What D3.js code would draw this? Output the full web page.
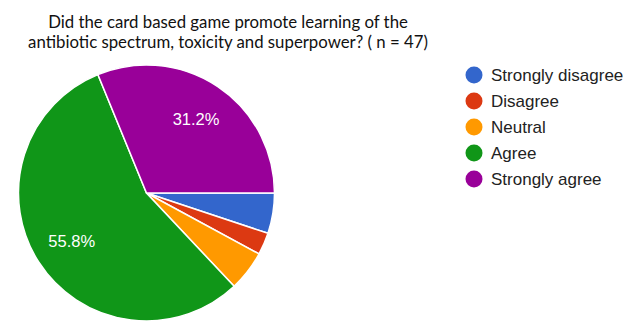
<html>
<head>
	<title>Card based game - pie</title>
	<script src="https://d3js.org/d3.v7.min.js"></script>
	<style type="text/css">
		body { margin: 0; padding: 0; background: #fff; }
	</style>
</head>
<body>
<div id="chart"></div>
<script>

var titleLines = ["Did the card based game promote learning of the",
	"antibiotic spectrum, toxicity and superpower? ( n = 47)"];
var categories = ["Strongly disagree", "Disagree", "Neutral", "Agree", "Strongly agree"];
var values = [5.1, 2.8, 5.1, 55.8, 31.2];
var colors = ["#3366cc", "#dc3912", "#ff9900", "#109618", "#990099"];
var shownLabels = ["", "", "", "55.8%", "31.2%"];

var w = 635, h = 321;
var cx = 146.5, cy = 193, r = 128;

var svg = d3.select("#chart").append("svg")
	.attr("width", w)
	.attr("height", h);

// title
svg.selectAll("text.title")
	.data(titleLines)
	.enter().append("text")
	.attr("class", "title")
	.attr("x", 228)
	.attr("y", function(d, i) { return 28 + i * 20; })
	.attr("text-anchor", "middle")
	.attr("font-family", "Lato, 'Open Sans', sans-serif")
	.attr("font-size", "16.8px")
	.attr("fill", "#111")
	.text(function(d) { return d; });

// pie starts at 3 o'clock, clockwise
var pie = d3.pie()
	.sort(null)
	.startAngle(Math.PI / 2)
	.endAngle(Math.PI / 2 + 2 * Math.PI)
	.value(function(d) { return d; });

var arc = d3.arc().innerRadius(0).outerRadius(r);
var labelArc = d3.arc().innerRadius(r * 0.695).outerRadius(r * 0.695);

var arcs = pie(values);

var g = svg.append("g").attr("transform", "translate(" + cx + "," + cy + ")");

g.selectAll("path")
	.data(arcs)
	.enter().append("path")
	.attr("d", arc)
	.attr("fill", function(d, i) { return colors[i]; })
	.attr("stroke", "#fff")
	.attr("stroke-width", 1.5);

g.selectAll("text")
	.data(arcs)
	.enter().append("text")
	.attr("transform", function(d) { return "translate(" + labelArc.centroid(d) + ")"; })
	.attr("text-anchor", "middle")
	.attr("dy", "0.35em")
	.attr("font-family", "Arial, 'Liberation Sans', sans-serif")
	.attr("font-size", "16.5px")
	.attr("fill", "#fff")
	.text(function(d, i) { return shownLabels[i]; });

// legend
var legend = svg.selectAll("g.legend")
	.data(categories)
	.enter().append("g")
	.attr("class", "legend")
	.attr("transform", function(d, i) { return "translate(474," + (75 + i * 26) + ")"; });

legend.append("circle")
	.attr("r", 8.5)
	.attr("fill", function(d, i) { return colors[i]; });

legend.append("text")
	.attr("x", 17)
	.attr("dy", "0.35em")
	.attr("font-family", "Arial, 'Liberation Sans', sans-serif")
	.attr("font-size", "17px")
	.attr("fill", "#222")
	.text(function(d) { return d; });

</script>
</body>
</html>
